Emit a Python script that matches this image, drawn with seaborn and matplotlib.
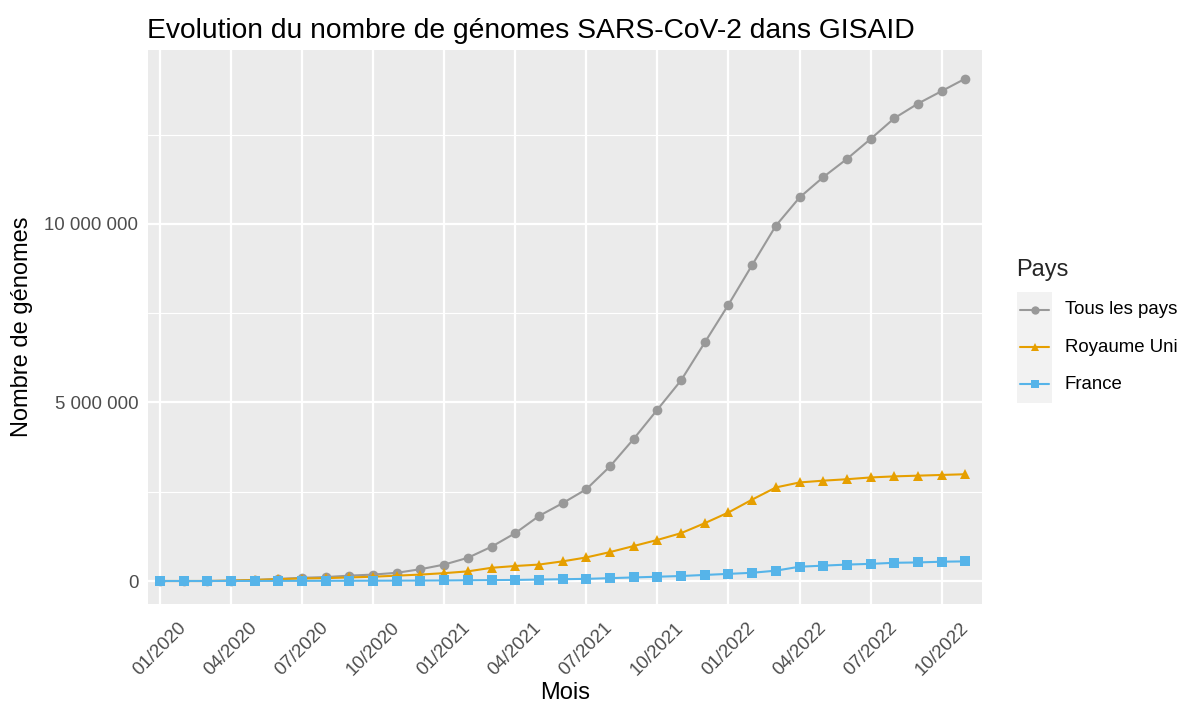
import numpy as np
import pandas as pd
import matplotlib
matplotlib.use("Agg")
import matplotlib.pyplot as plt
import matplotlib.ticker as mticker
from matplotlib.patches import Rectangle
import seaborn as sns

# ---- data (cumulative genomes, millions) ----
months = pd.date_range("2020-01-01", "2022-11-01", freq="MS")
month_labels = [d.strftime("%m/%Y") for d in months]

tous_les_pays = [0.0, 0.0, 0.0, 0.01, 0.03, 0.06, 0.09, 0.11, 0.15, 0.18, 0.23, 0.33,
                 0.46, 0.65, 0.96, 1.34, 1.82, 2.18, 2.57, 3.21, 3.98, 4.80, 5.62, 6.68,
                 7.74, 8.85, 9.95, 10.74, 11.31, 11.82, 12.38, 12.96, 13.37, 13.72, 14.07]
royaume_uni = [0.0, 0.0, 0.0, 0.01, 0.03, 0.05, 0.07, 0.08, 0.10, 0.12, 0.15, 0.18,
               0.22, 0.27, 0.37, 0.42, 0.46, 0.55, 0.66, 0.81, 0.98, 1.15, 1.34, 1.62,
               1.92, 2.28, 2.62, 2.76, 2.81, 2.85, 2.90, 2.93, 2.95, 2.97, 2.99]
france = [0.0, 0.0, 0.0, 0.001, 0.002, 0.003, 0.004, 0.005, 0.006, 0.008, 0.010, 0.012,
          0.015, 0.02, 0.025, 0.03, 0.04, 0.05, 0.06, 0.08, 0.10, 0.12, 0.14, 0.17,
          0.20, 0.23, 0.29, 0.40, 0.43, 0.46, 0.48, 0.51, 0.52, 0.54, 0.55]

series_names = ["Tous les pays", "Royaume Uni", "France"]
series_values = [tous_les_pays, royaume_uni, france]
colors = ["#999999", "#E69F00", "#56B4E9"]
markers = ["o", "^", "s"]

tick_idx = list(range(0, len(months), 3))
tick_labels = [month_labels[i] for i in tick_idx]

rows = []
for name, vals in zip(series_names, series_values):
    for i, v in enumerate(vals):
        rows.append({"Mois": i, "Genomes": v * 1e6, "Pays": name})
df = pd.DataFrame(rows)

# ---- style ----
sns.set_theme(style="darkgrid")
plt.rcParams.update({
    "axes.facecolor": "#EBEBEB",
    "grid.color": "white",
    "axes.edgecolor": "#EBEBEB",
})
plt.rcParams["font.family"] = ["Liberation Sans", "DejaVu Sans"]

W, H = 1187, 702
fig = plt.figure(figsize=(W / 100, H / 100), dpi=100)
ax = fig.add_axes([148 / W, 1 - 604 / H, (982 - 148) / W, (604 - 50) / H])

sns.lineplot(data=df, x="Mois", y="Genomes", hue="Pays", style="Pays",
             hue_order=series_names, style_order=series_names,
             palette=colors, markers=markers, dashes=False,
             markersize=7, markeredgewidth=0, linewidth=1.5, ax=ax, legend=False)

ax.set_xlim(-0.5, 34.7)
ax.set_ylim(-0.644e6, 14.87e6)
ax.set_xticks(tick_idx)
ax.set_xticklabels(tick_labels, rotation=45, ha="center", va="center",
                   rotation_mode="anchor")
ax.set_yticks([0, 5e6, 1e7])
ax.yaxis.set_minor_locator(mticker.FixedLocator([2.5e6, 7.5e6, 12.5e6]))
ax.yaxis.set_major_formatter(mticker.FuncFormatter(
    lambda v, p: f"{int(round(v)):,}".replace(",", " ")))
ax.grid(which="major", color="white", linewidth=1.6)
ax.grid(which="minor", axis="y", color="white", linewidth=0.8)
ax.grid(which="minor", axis="x", visible=False)
ax.tick_params(axis="both", which="major", length=4, width=1, color="#333333",
               labelsize=13.4, labelcolor="#4D4D4D", pad=3)
ax.tick_params(axis="y", which="minor", length=0)
ax.tick_params(axis="x", which="major", pad=28.5)
for s in ax.spines.values():
    s.set_visible(False)

ax.set_xlabel("Mois", fontsize=17, color="black", labelpad=2)
ax.set_ylabel("Nombre de génomes", fontsize=17, color="black", labelpad=8)
ax.set_title("Evolution du nombre de génomes SARS-CoV-2 dans GISAID",
             fontsize=20.3, loc="left", x=-0.001, pad=9, color="black")

# ---- legend ----
fig.patches.append(Rectangle((1017 / W, 1 - 403 / H), 35 / W, 111 / H,
                             transform=fig.transFigure, facecolor="#F2F2F2",
                             edgecolor="none", zorder=0))
fig.text(1016 / W, 1 - 270 / H, "Pays", fontsize=17, va="center", ha="left")
for k, (name, c, m) in enumerate(zip(series_names, colors, markers)):
    yk = 1 - (310 + 37 * k) / H
    fig.add_artist(plt.Line2D([1020 / W, 1049 / W], [yk, yk], color=c, linewidth=1.5,
                              transform=fig.transFigure))
    fig.add_artist(plt.Line2D([1034.5 / W], [yk], color=c, marker=m, markersize=6,
                              markeredgewidth=0, transform=fig.transFigure))
    fig.text(1065 / W, yk, name, fontsize=13.4, va="center", ha="left", color="black")

fig.savefig("out.png", dpi=100)
